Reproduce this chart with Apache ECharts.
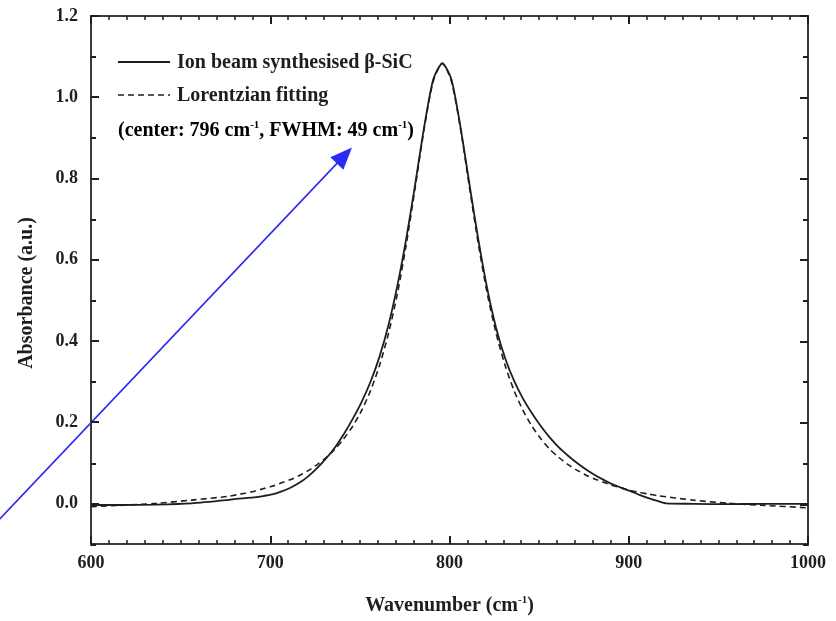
<!DOCTYPE html>
<html>
<head>
<meta charset="utf-8">
<script src="https://cdn.jsdelivr.net/npm/echarts@6/dist/echarts.min.js"></script>
<style>
  html, body { margin: 0; padding: 0; background: #fff; }
  #chart { width: 836px; height: 621px; }
</style>
</head>
<body>
<div id="chart"></div>
<script>
// FTIR absorbance spectrum of ion-beam synthesised beta-SiC and its Lorentzian fit

// measured spectrum: wavenumber (cm^-1) and absorbance
const measuredX = [600, 616, 636, 656,
  676, 681, 686, 691, 696, 701, 706, 711, 716, 721, 726, 731, 736, 741, 746, 751, 756, 761, 766, 771, 776, 781, 786, 791,
  796,
  801, 806, 811, 816, 821, 826, 831, 836, 841, 846, 851, 856, 861, 866, 871, 876, 881, 886, 891, 896, 901, 906, 911, 916,
  921, 936, 956, 976, 1000];
const measuredY = [-0.004, -0.004, -0.003, 0.000,
  0.008, 0.011, 0.013, 0.015, 0.018, 0.022, 0.029, 0.038, 0.050, 0.066, 0.086, 0.110, 0.137, 0.170, 0.208, 0.250, 0.300, 0.362, 0.440, 0.538, 0.655, 0.790, 0.930, 1.045,
  1.083,
  1.045, 0.930, 0.790, 0.652, 0.530, 0.432, 0.358, 0.302, 0.258, 0.222, 0.190, 0.162, 0.138, 0.118, 0.100, 0.084, 0.070, 0.058, 0.047, 0.038, 0.030, 0.021, 0.013, 0.006,
  0.000, -0.001, -0.002, -0.001, -0.001];

// Lorentzian fit curve
const fitX = [600, 616, 636, 656,
  676, 681, 686, 691, 696, 701, 706, 711, 716, 721, 726, 731, 736, 741, 746, 751, 756, 761, 766, 771, 776, 781, 786, 791,
  796,
  801, 806, 811, 816, 821, 826, 831, 836, 841, 846, 851, 856, 861, 866, 871, 876, 881, 886, 891, 896, 901, 906, 911, 916,
  936, 956, 976, 1000];
const fitY = [-0.008, -0.005, 0.000, 0.008,
  0.017, 0.021, 0.025, 0.030, 0.036, 0.042, 0.050, 0.058, 0.068, 0.080, 0.095, 0.112, 0.133, 0.159, 0.190, 0.229, 0.278, 0.340, 0.419, 0.518, 0.641, 0.782, 0.926, 1.040,
  1.084,
  1.040, 0.926, 0.782, 0.641, 0.518, 0.419, 0.340, 0.278, 0.229, 0.190, 0.159, 0.133, 0.113, 0.096, 0.082, 0.070, 0.060, 0.052, 0.044, 0.038, 0.032, 0.027, 0.023, 0.019,
  0.008, 0.000, -0.005, -0.011];

// fit parameters quoted in the legend
const fitCenter = 796;
const fitFWHM = 49;

// axis ticks
const yMajorTicks = [0.0, 0.2, 0.4, 0.6, 0.8, 1.0, 1.2];
const yMinorTicks = [-0.1, 0.1, 0.3, 0.5, 0.7, 0.9, 1.1];

// annotation arrow, in data coordinates (tail, head)
const arrowTail = [549, -0.039];
const arrowHead = [745.6, 0.876];

const FONT = "'Liberation Serif', 'Times New Roman', serif";
const INK = '#1e1e1e';
const AXIS = '#3a3a3a';
const BLUE = '#2a2cf5';

const gridRect = { left: 91, right: 28, top: 16, bottom: 76 };

const pairs = (xs, ys) => xs.map((x, i) => [x, ys[i]]);

const supRich = {
  a: { fontFamily: FONT, fontWeight: 'bold', fontSize: 20, color: INK },
  s: { fontFamily: FONT, fontWeight: 'bold', fontSize: 11, color: INK, padding: [0, 0, 11, 0] }
};

function xAxisCfg(idx, pos, labels) {
  return {
    type: 'value', gridIndex: idx, position: pos,
    min: 600, max: 1000, interval: 100,
    axisLine: { show: true, onZero: false, lineStyle: { color: AXIS, width: 2 } },
    axisTick: { show: true, inside: true, length: 8, lineStyle: { color: INK, width: 2 } },
    minorTick: { show: true, splitNumber: 10, length: 4, lineStyle: { color: INK, width: 1.5 } },
    splitLine: { show: false },
    axisLabel: {
      show: labels, margin: 10, formatter: v => String(v),
      fontFamily: FONT, fontWeight: 'bold', fontSize: 18, color: INK
    },
    name: labels ? '{a|Wavenumber (cm}{s|-1}{a|)}' : '',
    nameLocation: 'middle', nameGap: 51,
    nameTextStyle: { rich: supRich }
  };
}

function yAxisCfg(idx, pos, ticks, len, labels) {
  return {
    type: 'value', gridIndex: idx, position: pos,
    min: -0.1, max: 1.2,
    axisLine: { show: true, onZero: false, lineStyle: { color: AXIS, width: 2 } },
    axisTick: { show: true, inside: true, length: len, customValues: ticks, lineStyle: { color: INK, width: 2 } },
    splitLine: { show: false },
    axisLabel: {
      show: labels, customValues: ticks, margin: 13,
      formatter: v => v.toFixed(1),
      fontFamily: FONT, fontWeight: 'bold', fontSize: 18, color: INK
    },
    name: labels ? 'Absorbance (a.u.)' : '',
    nameLocation: 'middle', nameGap: 54,
    nameTextStyle: { fontFamily: FONT, fontWeight: 'bold', fontSize: 20, color: INK, padding: [0, 26, 0, 0] }
  };
}

const chart = echarts.init(document.getElementById('chart'), null, { renderer: 'canvas' });

const option = {
  animation: false,
  backgroundColor: '#ffffff',
  grid: [0, 1, 2, 3].map(() => Object.assign({}, gridRect)),
  xAxis: [
    xAxisCfg(0, 'bottom', true),
    xAxisCfg(1, 'top', false),
    Object.assign(xAxisCfg(2, 'bottom', false), { show: false }),
    Object.assign(xAxisCfg(3, 'bottom', false), { show: false })
  ],
  yAxis: [
    yAxisCfg(0, 'left', yMajorTicks, 8, true),
    yAxisCfg(1, 'right', yMajorTicks, 8, false),
    yAxisCfg(2, 'left', yMinorTicks, 5, false),
    yAxisCfg(3, 'right', yMinorTicks, 5, false)
  ],
  series: [
    {
      name: 'Ion beam synthesised β-SiC', type: 'line',
      xAxisIndex: 0, yAxisIndex: 0,
      data: pairs(measuredX, measuredY),
      symbol: 'none', smooth: 0.25,
      lineStyle: { color: INK, width: 1.8, type: 'solid' }
    },
    {
      name: 'Lorentzian fitting', type: 'line',
      xAxisIndex: 0, yAxisIndex: 0,
      data: pairs(fitX, fitY),
      symbol: 'none', smooth: 0.25,
      lineStyle: { color: INK, width: 1.6, type: [6, 4] }
    }
  ]
};

chart.setOption(option);

// legend key, fit-parameter note and the blue annotation arrow
const p0 = chart.convertToPixel({ gridIndex: 0 }, arrowTail);
const p1 = chart.convertToPixel({ gridIndex: 0 }, arrowHead);
const dx = p1[0] - p0[0], dy = p1[1] - p0[1];
const len = Math.hypot(dx, dy);
const ux = dx / len, uy = dy / len, nx = -uy, ny = ux;
const headLen = 22, headHalf = 9;
const base = [p1[0] - ux * headLen, p1[1] - uy * headLen];

const legendText = (label, y) => ({
  type: 'text', x: 177, y: y,
  style: { text: label, fontFamily: FONT, fontWeight: 'bold', fontSize: 20, fill: INK, verticalAlign: 'middle' }
});

chart.setOption({
  graphic: [
    { type: 'line', shape: { x1: 118, y1: 62, x2: 170, y2: 62 }, style: { stroke: INK, lineWidth: 1.8 } },
    legendText(option.series[0].name, 63),
    { type: 'line', shape: { x1: 118, y1: 95, x2: 170, y2: 95 }, style: { stroke: INK, lineWidth: 1.6, lineDash: [6, 4] } },
    legendText(option.series[1].name, 96),
    {
      type: 'text', x: 118, y: 131,
      style: {
        text: '{a|(center: ' + fitCenter + ' cm}{s|-1}{a|, FWHM: ' + fitFWHM + ' cm}{s|-1}{a|)}',
        rich: supRich, verticalAlign: 'middle'
      }
    },
    {
      type: 'line', silent: true,
      shape: { x1: p0[0], y1: p0[1], x2: base[0] + ux * 4, y2: base[1] + uy * 4 },
      style: { stroke: BLUE, lineWidth: 1.6 }
    },
    {
      type: 'polygon', silent: true,
      shape: { points: [
        [p1[0], p1[1]],
        [base[0] + nx * headHalf, base[1] + ny * headHalf],
        [base[0] - nx * headHalf, base[1] - ny * headHalf]
      ] },
      style: { fill: BLUE }
    }
  ]
});
</script>
</body>
</html>
